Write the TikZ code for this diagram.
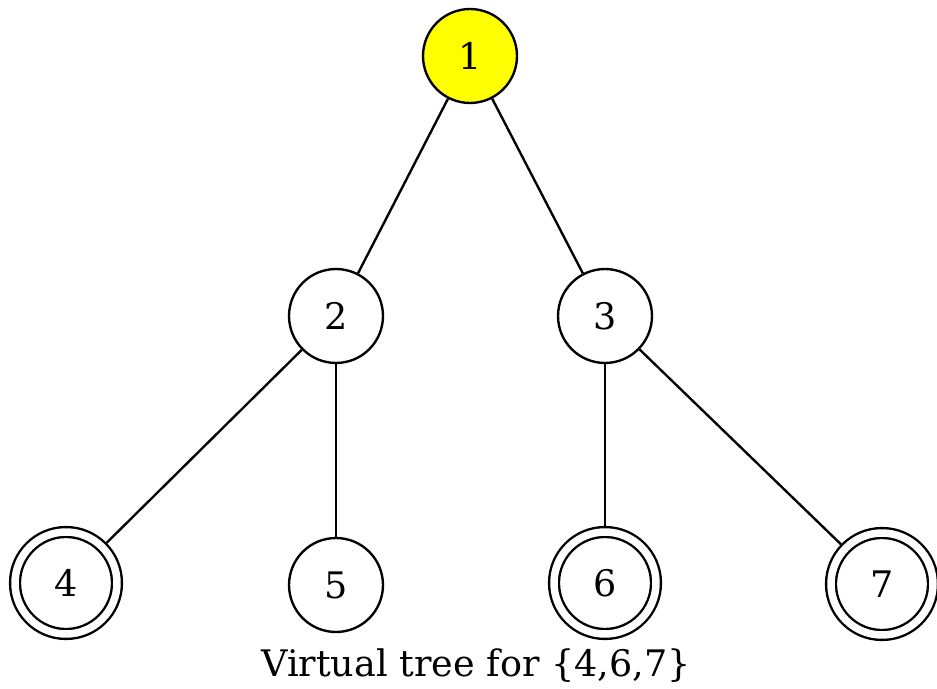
\documentclass[tikz,border=0pt]{standalone}
\usepackage{fontspec}
\setmainfont{DejaVu Serif}
\usetikzlibrary{positioning}
\definecolor{clrroot}{HTML}{FFFF00}
\definecolor{clrborder}{HTML}{000000}

\begin{document}
\begin{tikzpicture}[
    x=0.02cm, y=-0.02cm,
    every node/.style={font=\fontsize{20.8}{24}\selectfont},
    vertex/.style={circle, draw=clrborder, line width=1.35pt, minimum size=1.88cm, inner sep=0pt},
    marked/.style={circle, draw=clrborder, line width=1.35pt, double, double distance=0.15cm,
                   minimum size=2.04cm, inner sep=0pt, outer sep=0.12cm},
    edge/.style={draw=clrborder, line width=1.35pt},
]
\useasboundingbox (0,0) rectangle (937,689);
\node[vertex, fill=clrroot] (n_1) at (470,56) {1};
\node[vertex] (n_2) at (336,316) {2};
\node[vertex] (n_3) at (605,316) {3};
\node[marked] (n_4) at (66,583) {4};
\node[vertex] (n_5) at (336,585) {5};
\node[marked] (n_6) at (605,583) {6};
\node[marked] (n_7) at (882,584) {7};
\draw[edge] (n_1) -- (n_2);
\draw[edge] (n_1) -- (n_3);
\draw[edge] (n_2) -- (n_4);
\draw[edge] (n_2) -- (n_5);
\draw[edge] (n_3) -- (n_6);
\draw[edge] (n_3) -- (n_7);
\node (caption) at (476,666) {Virtual tree for \{4,6,7\}};
\end{tikzpicture}
\end{document}
